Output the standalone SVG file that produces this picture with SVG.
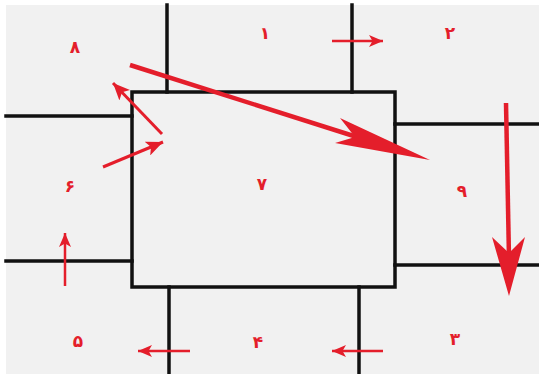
<svg xmlns="http://www.w3.org/2000/svg" width="539" height="374" viewBox="0 0 539 374">
<style>
.wall{stroke:#111;stroke-width:3.5;fill:none;stroke-linecap:square}
.ar{stroke:#e41e2b;fill:none;stroke-width:2.5}
.ar3{stroke:#e41e2b;fill:none;stroke-width:3}
.big{stroke:#e41e2b;fill:none;stroke-width:4.5}
.head{fill:#e41e2b}
.lbl{font-family:"DejaVu Sans",sans-serif;font-size:17px;font-weight:bold;fill:#e41e2b;text-anchor:middle}
</style>
<defs>
<marker id="ah" viewBox="0 0 14 12" refX="14" refY="6" markerWidth="14" markerHeight="12" markerUnits="userSpaceOnUse" orient="auto"><path d="M0,0 L14,6 L0,12 L3.5,6 Z" fill="#e41e2b"/></marker>
<marker id="ah2" viewBox="0 0 17 15" refX="17" refY="7.5" markerWidth="17" markerHeight="15" markerUnits="userSpaceOnUse" orient="auto"><path d="M0,0 L17,7.5 L0,15 L4,7.5 Z" fill="#e41e2b"/></marker>
</defs>
<rect x="0" y="0" width="539" height="374" fill="#ffffff"/>
<rect x="6" y="5" width="533" height="369" fill="#f1f1f1"/>
<g id="walls">
<rect id="n7box" x="132" y="92" width="263" height="195" class="wall"/>
<line x1="167" y1="5" x2="167" y2="92" class="wall"/>
<line x1="352" y1="5" x2="352" y2="92" class="wall"/>
<line x1="6" y1="116" x2="132" y2="116" class="wall"/>
<line x1="395" y1="124" x2="539" y2="124" class="wall"/>
<line x1="6" y1="261" x2="132" y2="261" class="wall"/>
<line x1="395" y1="265" x2="539" y2="265" class="wall"/>
<line x1="169" y1="287" x2="169" y2="374" class="wall"/>
<line x1="359" y1="287" x2="359" y2="374" class="wall"/>
</g>
<g id="n1"><text x="265" y="39" class="lbl">۱</text></g>
<g id="n2"><text x="450" y="39" class="lbl">۲</text></g>
<g id="n3"><text x="455" y="345" class="lbl">۳</text></g>
<g id="n4"><text x="258" y="348" class="lbl">۴</text></g>
<g id="n5"><text x="78" y="347" class="lbl">۵</text></g>
<g id="n6"><text x="70" y="192" class="lbl">۶</text></g>
<g id="n7"><text x="262" y="190" class="lbl">۷</text></g>
<g id="n8"><text x="75" y="53" class="lbl">۸</text></g>
<g id="n9"><text x="462" y="197" class="lbl">۹</text></g>
<g id="connectors">
<line x1="332" y1="41" x2="383" y2="41" class="ar" marker-end="url(#ah)"/>
<line x1="190" y1="351" x2="138" y2="351" class="ar" marker-end="url(#ah)"/>
<line x1="383" y1="351" x2="332" y2="351" class="ar" marker-end="url(#ah)"/>
<line x1="65" y1="286" x2="65" y2="233" class="ar" marker-end="url(#ah)"/>
<line x1="162" y1="134" x2="113" y2="83" class="ar3" marker-end="url(#ah2)"/>
<line x1="103" y1="167" x2="163" y2="142" class="ar3" marker-end="url(#ah2)"/>
<line x1="130" y1="65" x2="360" y2="138" class="big"/>
<path d="M430,160 L340,118 L355,137 L335,143 Z" class="head"/>
<line x1="506" y1="103" x2="509" y2="258" class="big"/>
<path d="M509,296 L492,237 L509,253 L525,237 Z" class="head"/>
</g>
</svg>
